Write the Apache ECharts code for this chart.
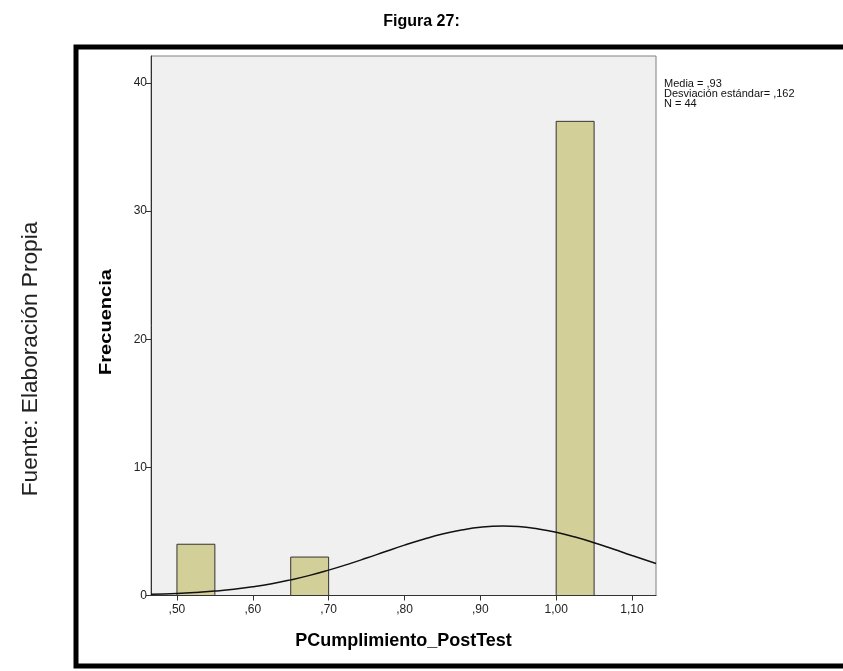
<!DOCTYPE html>
<html>
<head>
<meta charset="utf-8">
<script src="https://cdn.jsdelivr.net/npm/echarts@6/dist/echarts.min.js"></script>
<style>
html,body{margin:0;padding:0;background:#fff;}
#chart{width:843px;height:671px;}
</style>
</head>
<body>
<div id="chart"></div>
<script>
// Histogram bins: [start, end, frequency]
const binStarts = [0.50, 0.65, 1.00];
const binEnds = [0.55, 0.70, 1.05];
const frequencies = [4, 3, 37];
// Normal curve
const curveX = [0.4658, 0.50, 0.525, 0.55, 0.575, 0.60, 0.625, 0.65, 0.675, 0.70, 0.725, 0.75, 0.775, 0.80, 0.825, 0.85, 0.875, 0.90, 0.93, 0.95, 0.975, 1.00, 1.025, 1.05, 1.075, 1.10, 1.1316];
const curveY = [0.09, 0.16, 0.24, 0.35, 0.49, 0.68, 0.92, 1.22, 1.57, 1.98, 2.43, 2.92, 3.43, 3.93, 4.39, 4.80, 5.11, 5.33, 5.42, 5.38, 5.21, 4.94, 4.56, 4.12, 3.63, 3.12, 2.50];
const xTicks = [0.5, 0.6, 0.7, 0.8, 0.9, 1.0, 1.1];
const statsLines = ['Media = ,93', 'Desviación estándar= ,162', 'N = 44'];

const chart = echarts.init(document.getElementById('chart'));
const fmt = v => v.toFixed(2).replace('.', ',').replace(/^0/, '');
const barData = binStarts.map((s, i) => [s, binEnds[i], frequencies[i]]);
const FONT = '"Liberation Sans", Arial, sans-serif';

chart.setOption({
  backgroundColor: '#ffffff',
  animation: false,
  title: {
    text: 'Figura 27:',
    left: 'center',
    top: 9,
    textStyle: {fontFamily: FONT, fontSize: 16, fontWeight: 'bold', color: '#000'}
  },
  graphic: [
    {type: 'rect', shape: {x: 76, y: 47, width: 800, height: 619}, style: {fill: 'none', stroke: '#000', lineWidth: 5}, z: 10, silent: true},
    {type: 'text', x: 31, y: 359, rotation: Math.PI / 2, scaleX: 1.03, style: {text: 'Fuente: Elaboración Propia', font: '22px ' + FONT, fill: '#222', align: 'center', verticalAlign: 'middle'}},
    {type: 'text', x: 106, y: 322, rotation: Math.PI / 2, scaleX: 1.18, style: {text: 'Frecuencia', font: 'bold 17px ' + FONT, fill: '#000', align: 'center', verticalAlign: 'middle'}},
    {type: 'text', left: 664, top: 78, style: {text: statsLines.join('\n'), font: '11px ' + FONT, fill: '#111', lineHeight: 10}}
  ],
  grid: {left: 151, top: 56, right: 187, bottom: 75.5, show: true, backgroundColor: '#f0f0f0', borderColor: '#808080', borderWidth: 1},
  xAxis: {
    type: 'value', min: 0.4658, max: 1.1316,
    name: 'PCumplimiento_PostTest', nameLocation: 'middle', nameGap: 37,
    nameTextStyle: {fontFamily: FONT, fontSize: 18, fontWeight: 'bold', color: '#000'},
    axisLine: {show: true, onZero: false, lineStyle: {color: '#333', width: 1}},
    axisTick: {show: true, length: 5, customValues: xTicks, lineStyle: {color: '#333'}},
    axisLabel: {customValues: xTicks, formatter: fmt, fontFamily: FONT, fontSize: 12, color: '#222', margin: 8},
    splitLine: {show: false}
  },
  yAxis: {
    type: 'value', min: 0, max: 42.1, interval: 10,
    axisLine: {show: true, lineStyle: {color: '#333', width: 1}},
    axisTick: {show: true, length: 5, lineStyle: {color: '#333'}},
    axisLabel: {fontFamily: FONT, fontSize: 12, color: '#222', margin: 4, showMaxLabel: false},
    splitLine: {show: false}
  },
  series: [
    {
      type: 'custom',
      data: barData,
      encode: {x: [0, 1], y: 2},
      renderItem: function (params, api) {
        const p0 = api.coord([api.value(0), api.value(2)]);
        const p1 = api.coord([api.value(1), 0]);
        return {
          type: 'rect',
          shape: {x: p0[0], y: p0[1], width: p1[0] - p0[0], height: p1[1] - p0[1]},
          style: {fill: '#d3cf98', stroke: '#333', lineWidth: 1}
        };
      },
      z: 2
    },
    {
      type: 'line',
      data: curveX.map((x, i) => [x, curveY[i]]),
      smooth: true,
      showSymbol: false,
      lineStyle: {color: '#111', width: 1.5},
      z: 3
    }
  ]
});
</script>
</body>
</html>
